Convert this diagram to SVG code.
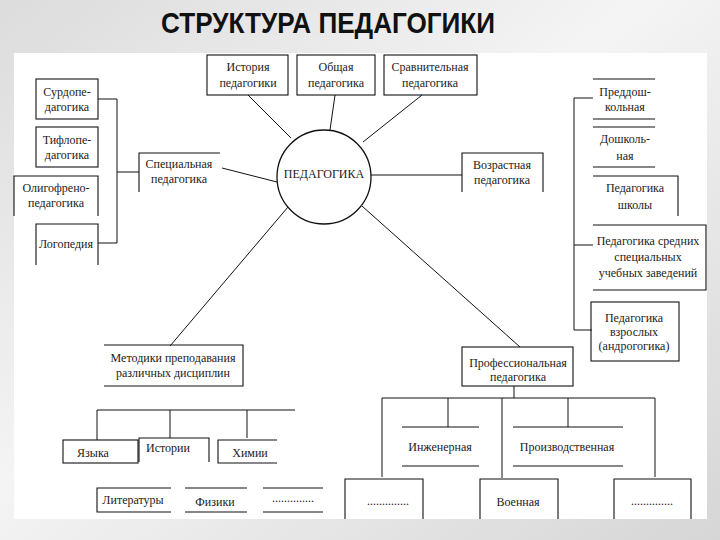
<svg xmlns="http://www.w3.org/2000/svg" width="720" height="540" viewBox="0 0 720 540">
<defs>
<linearGradient id="bg" x1="0" y1="0" x2="1" y2="1">
<stop offset="0" stop-color="#dcdcdc"/>
<stop offset="0.45" stop-color="#f4f4f4"/>
<stop offset="1" stop-color="#d6d6d6"/>
</linearGradient>
</defs>
<style>
.t{font-family:"Liberation Serif","Times New Roman",serif;font-size:12px;fill:#222;text-anchor:middle}
.b{fill:none;stroke:#111;stroke-width:1.1}
.c{fill:none;stroke:#111;stroke-width:1}
</style>
<rect x="0" y="0" width="720" height="540" fill="url(#bg)"/>
<rect x="14" y="53" width="693" height="466" fill="#ffffff"/>
<text x="328" y="33" font-family="Liberation Sans, Arial, sans-serif" font-weight="bold" font-size="30" fill="#111" text-anchor="middle" textLength="334" lengthAdjust="spacingAndGlyphs">СТРУКТУРА ПЕДАГОГИКИ</text>

<g id="connectors">
<line class="c" x1="248" y1="95" x2="291" y2="138"/>
<line class="c" x1="335" y1="95" x2="330" y2="130"/>
<line class="c" x1="422" y1="95" x2="363" y2="142"/>
<line class="c" x1="222" y1="168" x2="277" y2="182"/>
<line class="c" x1="371" y1="175" x2="462" y2="175"/>
<line class="c" x1="288" y1="207" x2="170" y2="346"/>
<line class="c" x1="362" y1="206" x2="520" y2="347"/>
<path class="c" d="M98 99H117V243H98M117 172H139"/>
<path class="c" d="M593 98H574V330H592M574 245H593"/>
<path class="c" d="M97 440V410H295M170 410V438M247 410V438"/>
<path class="c" d="M514 386V398M382 477V398H655V477M448 398V427M502 398V478M568 398V427"/>
</g>

<g id="pedagogika">
<circle cx="324" cy="177" r="47" fill="#fff" stroke="#111" stroke-width="1.3"/>
<text class="t" x="324" y="178">ПЕДАГОГИКА</text>
</g>
<g id="istoriya">
<rect class="b" x="207" y="55" width="81" height="40"/>
<text class="t" x="248" y="71">История</text><text class="t" x="248" y="87">педагогики</text>
</g>
<g id="obshchaya">
<rect class="b" x="297" y="55" width="78" height="40"/>
<text class="t" x="336" y="71">Общая</text><text class="t" x="336" y="87">педагогика</text>
</g>
<g id="sravnitelnaya">
<rect class="b" x="384" y="55" width="93" height="40"/>
<text class="t" x="430" y="71">Сравнительная</text><text class="t" x="430" y="87">педагогика</text>
</g>
<g id="surdo">
<rect class="b" x="36" y="79" width="62" height="40"/>
<text class="t" x="67" y="96">Сурдопе-</text><text class="t" x="67" y="111">дагогика</text>
</g>
<g id="tiflo">
<rect class="b" x="36" y="127" width="62" height="40"/>
<text class="t" x="67" y="144">Тифлопе-</text><text class="t" x="67" y="159">дагогика</text>
</g>
<g id="oligo">
<path class="b" d="M14 216V176H98V216"/>
<text class="t" x="56" y="192">Олигофрено-</text><text class="t" x="56" y="207">педагогика</text>
</g>
<g id="logopediya">
<path class="b" d="M36 265V224H98V265"/>
<text class="t" x="66" y="248">Логопедия</text>
</g>
<g id="specialnaya">
<path class="b" d="M139 192V153H220"/>
<text class="t" x="179" y="168">Специальная</text><text class="t" x="179" y="183">педагогика</text>
</g>
<g id="vozrastnaya">
<path class="b" d="M462 192V153H543V192"/>
<text class="t" x="502" y="169">Возрастная</text><text class="t" x="502" y="184">педагогика</text>
</g>
<g id="preddosh">
<path class="b" d="M593 79H655M593 119H655"/>
<text class="t" x="625" y="96">Преддош-</text><text class="t" x="625" y="111">кольная</text>
</g>
<g id="doshkol">
<path class="b" d="M593 127H655M593 167H655"/>
<text class="t" x="625" y="143">Дошколь-</text><text class="t" x="625" y="160">ная</text>
</g>
<g id="shkoly">
<path class="b" d="M593 176H678V216"/>
<text class="t" x="635" y="192">Педагогика</text><text class="t" x="635" y="209">школы</text>
</g>
<g id="ssuz">
<path class="b" d="M593 225H706V290H593"/>
<text class="t" x="648" y="245">Педагогика средних</text><text class="t" x="648" y="261">специальных</text><text class="t" x="648" y="277">учебных заведений</text>
</g>
<g id="vzroslyh">
<rect class="b" x="591" y="302" width="88" height="59"/>
<text class="t" x="634" y="322">Педагогика</text><text class="t" x="634" y="336">взрослых</text><text class="t" x="634" y="350">(андрогогика)</text>
</g>
<g id="metodiki">
<path class="b" d="M104 345H243V386H104"/>
<text class="t" x="173" y="362">Методики преподавания</text><text class="t" x="173" y="377">различных дисциплин</text>
</g>
<g id="professionalnaya">
<rect class="b" x="462" y="347" width="111" height="39"/>
<text class="t" x="518" y="367">Профессиональная</text><text class="t" x="518" y="381">педагогика</text>
</g>
<g id="yazyka">
<rect class="b" x="63" y="440" width="75" height="23"/>
<text class="t" x="93" y="457">Языка</text>
</g>
<g id="istorii">
<path class="b" d="M139 462V438H209V462"/>
<text class="t" x="168" y="452">Истории</text>
</g>
<g id="himii">
<path class="b" d="M277 440H218V463H277"/>
<text class="t" x="250" y="457">Химии</text>
</g>
<g id="literatury">
<path class="b" d="M171 488H97V512H171"/>
<text class="t" x="133" y="504">Литературы</text>
</g>
<g id="fiziki">
<path class="b" d="M185 488H247M185 512H247"/>
<text class="t" x="215" y="506">Физики</text>
</g>
<g id="dots1">
<path class="b" d="M263 488H323M263 512H323"/>
<text class="t" x="293" y="502">..............</text>
</g>
<g id="inzhenernaya">
<path class="b" d="M402 427H479M402 466H479"/>
<text class="t" x="440" y="451">Инженерная</text>
</g>
<g id="proizvodstvennaya">
<path class="b" d="M513 427H623M513 466H623"/>
<text class="t" x="567" y="451">Производственная</text>
</g>
<g id="dots2">
<path class="b" d="M345 519V479H423V519"/>
<text class="t" x="388" y="505">..............</text>
</g>
<g id="voennaya">
<path class="b" d="M480 519V479H558V519"/>
<text class="t" x="518" y="506">Военная</text>
</g>
<g id="dots3">
<path class="b" d="M614 519V479H691V519"/>
<text class="t" x="652" y="505">..............</text>
</g>
</svg>
